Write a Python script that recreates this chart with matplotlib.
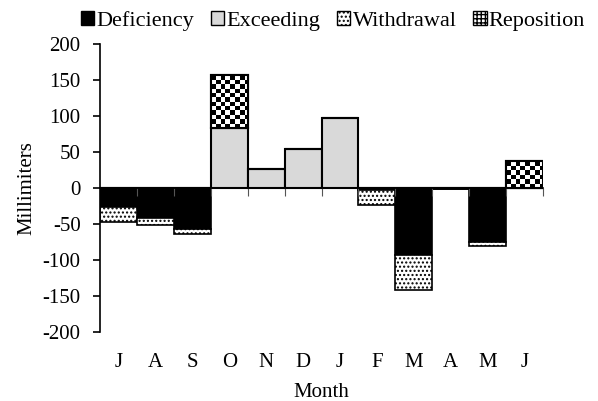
import matplotlib
matplotlib.use("Agg")
import matplotlib.pyplot as plt
import matplotlib.patches as mpatches
import numpy as np

plt.rcParams["font.family"] = ["Liberation Serif", "DejaVu Serif"]
plt.rcParams["axes.unicode_minus"] = False
plt.rcParams["hatch.linewidth"] = 1.0

months = ["J", "A", "S", "O", "N", "D", "J", "F", "M", "A", "M", "J"]
deficiency = [-26, -41, -57, 0, 0, 0, 0, -3, -93, -2, -75, 0]
withdrawal = [-21, -10, -7, 0, 0, 0, 0, -21, -48, 0, -6, 0]
exceeding = [0, 0, 0, 83, 27, 54, 97, 0, 0, 0, 0, 0]
reposition = [0, 0, 0, 74, 0, 0, 0, 0, 0, 0, 0, 38]

fig = plt.figure(figsize=(5.98, 4.01), dpi=100)
ax = fig.add_axes([100 / 598, 1 - 332 / 401, 443 / 598, 288 / 401])

x = np.arange(len(months))
W = 1.0
ec = "black"
FS = 15

ax.bar(x, deficiency, width=W, color="black", edgecolor=ec, linewidth=1.2)
ax.bar(x, withdrawal, width=W, bottom=deficiency, color="white", edgecolor=ec,
       linewidth=1.2, hatch="....")
ax.bar(x, exceeding, width=W, color="#d9d9d9", edgecolor=ec, linewidth=1.5)
rep = ax.bar(x, reposition, width=W, bottom=exceeding, color="white",
             edgecolor=ec, linewidth=1.5)

# checkerboard texture for reposition bars
cells = np.indices((80, 80)).sum(axis=0) % 2
for b in rep:
    if b.get_height() == 0:
        continue
    x0, y0 = b.get_x(), b.get_y()
    im = ax.imshow(cells, cmap="gray_r", interpolation="nearest", aspect="auto",
                   extent=(x0, x0 + 80 * 0.13, y0, y0 + 80 * 6.0),
                   origin="lower", zorder=b.get_zorder() + 0.1)
    im.set_clip_path(b)
    ax.add_patch(mpatches.Rectangle((x0, y0), b.get_width(), b.get_height(),
                                    fill=False, edgecolor=ec, linewidth=1.5,
                                    zorder=b.get_zorder() + 0.2))

ax.set_xlim(-0.5, len(months) - 0.5)
ax.set_ylim(-200, 200)
ax.set_yticks(np.arange(-200, 201, 50))
ax.spines["top"].set_visible(False)
ax.spines["right"].set_visible(False)
ax.spines["bottom"].set_position(("data", 0))
ax.spines["bottom"].set_linewidth(1.2)
ax.spines["left"].set_linewidth(1.2)
ax.set_xticks(np.arange(len(months)) + 0.5)
ax.set_xticklabels([])
ax.tick_params(axis="x", direction="out", length=6, width=0.8, color="#555555")
ax.tick_params(axis="y", direction="out", length=5, width=1.2, pad=9,
               labelsize=FS)
for i, m in enumerate(months):
    ax.text(i, -0.105, m, transform=ax.get_xaxis_transform(), ha="center",
            va="center", fontsize=FS)
ax.text(0.5, -0.21, "Month", transform=ax.transAxes, ha="center", va="center",
        fontsize=FS)
ax.set_ylabel("Millimiters", fontsize=FS, labelpad=4)

handles = [
    mpatches.Patch(facecolor="black", edgecolor="black", label="Deficiency"),
    mpatches.Patch(facecolor="#d9d9d9", edgecolor="black", label="Exceeding"),
    mpatches.Patch(facecolor="white", edgecolor="black", hatch="....", label="Withdrawal"),
    mpatches.Patch(facecolor="white", edgecolor="black", hatch="++++", label="Reposition"),
]
fig.legend(handles=handles, loc="center", bbox_to_anchor=(333 / 598, 1 - 21 / 401), ncol=4,
           frameon=False, fontsize=16, handlelength=0.6, handleheight=0.6,
           handletextpad=0.1, columnspacing=0.75, borderpad=0)

fig.savefig("out.png", dpi=100)
